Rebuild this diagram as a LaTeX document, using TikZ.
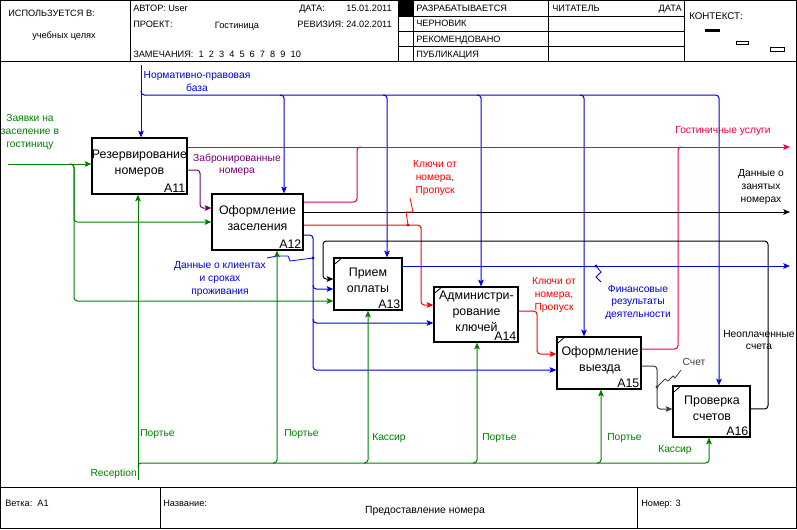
\documentclass[tikz,border=0pt]{standalone}
\usepackage{fontspec}
\setmainfont{Liberation Sans}
\usepackage{tikz}
\usetikzlibrary{calc,arrows.meta}

\definecolor{idgreen}{RGB}{0,128,0}
\definecolor{idblue}{RGB}{0,0,225}
\definecolor{idred}{RGB}{255,0,0}
\definecolor{idrose}{RGB}{240,0,60}
\definecolor{idplum}{RGB}{115,0,115}
\definecolor{idgray}{RGB}{60,60,60}

\begin{document}
\begin{tikzpicture}[x=0.75pt,y=-0.75pt,
	frm/.style={line width=0.75pt},
	hdr/.style={font=\fontsize{6.9}{8}\selectfont,inner sep=0pt,anchor=base west},
	func/.style={draw,line width=0.9pt,fill=white,inner sep=0pt},
	ftext/.style={font=\fontsize{9.3}{12}\selectfont,align=center,inner sep=0pt},
	fnum/.style={font=\fontsize{9.3}{11}\selectfont,inner sep=1.5pt,anchor=south east},
	arr/.style={-{Stealth[length=5pt,width=4.2pt,inset=1pt]},line width=0.75pt,rounded corners=2.5pt},
	jn/.style={line width=0.75pt,rounded corners=2.5pt},
	lbl/.style={font=\fontsize{7.7}{9.4}\selectfont,align=center,inner sep=0pt},
	squig/.style={line width=0.6pt}]

\useasboundingbox (0,0) rectangle (797,529);

% frame, header and footer
\draw[frm] (0.5,0.5) rectangle (796.5,528.5);
\draw[frm] (0.5,61) -- (796.5,61) (0.5,487) -- (796.5,487);
\draw[frm] (130,0.5) -- (130,61) (398,0.5) -- (398,61) (413,0.5) -- (413,61)
	(548,0.5) -- (548,61) (684,0.5) -- (684,61);
\draw[frm] (398,16) -- (684,16) (398,31) -- (684,31) (398,46) -- (684,46);
\fill (398,0.5) rectangle (413,16);
\draw[frm] (160,487) -- (160,528.5) (637,487) -- (637,528.5);
\fill (705,29) rectangle (720,32);
\draw[line width=0.6pt] (736,41) rectangle (748,44) (770,47) rectangle (784,51);

\node[hdr] (used) at (8,16) {ИСПОЛЬЗУЕТСЯ В:};
\node[hdr,anchor=base] (usedv) at (64,38) {учебных целях};
\node[hdr] (auth) at (133,11) {АВТОР:\ User};
\node[hdr] (date) at (299,11) {ДАТА:};
\node[hdr,anchor=base east] (datev) at (392,11) {15.01.2011};
\node[hdr] (proj) at (133,27) {ПРОЕКТ:};
\node[hdr,anchor=base] (projv) at (237,28) {Гостиница};
\node[hdr,anchor=base east] (rev) at (392,27) {РЕВИЗИЯ: 24.02.2011};
\node[hdr] (notes) at (133,57) {ЗАМЕЧАНИЯ:\ \ 1\ \ 2\ \ 3\ \ 4\ \ 5\ \ 6\ \ 7\ \ 8\ \ 9\ \ 10};
\node[hdr] (st1) at (416,11) {РАЗРАБАТЫВАЕТСЯ};
\node[hdr] (st2) at (416,26) {ЧЕРНОВИК};
\node[hdr] (st3) at (416,42) {РЕКОМЕНДОВАНО};
\node[hdr] (st4) at (416,57) {ПУБЛИКАЦИЯ};
\node[hdr] (rdr) at (552,11) {ЧИТАТЕЛЬ};
\node[hdr,anchor=base east] (rdrd) at (682,11) {ДАТА};
\node[hdr,font=\fontsize{7.3}{9}\selectfont] (ctx) at (689,19) {КОНТЕКСТ:};
\node[hdr] (node) at (5,506) {Ветка:\ \ A1};
\node[hdr] (title) at (163,506) {Название:};
\node[hdr,anchor=base,font=\fontsize{7.8}{9}\selectfont] (titlev) at (425,513) {Предоставление номера};
\node[hdr] (num) at (641,506) {Номер: 3};

% function boxes
\node[func,minimum width=71.25pt,minimum height=42pt] (A11) at (139.5,166) {};
\node[func,minimum width=68.25pt,minimum height=42pt] (A12) at (257.5,222) {};
\node[func,minimum width=51pt,minimum height=39pt] (A13) at (368,284) {};
\node[func,minimum width=63pt,minimum height=41.25pt] (A14) at (476,314.5) {};
\node[func,minimum width=63pt,minimum height=39pt] (A15) at (599,363) {};
\node[func,minimum width=57.75pt,minimum height=38.25pt] (A16) at (711.5,411.5) {};
\foreach \f in {A13,A14,A15,A16}
	\draw[line width=0.6pt] ([shift={(1,7)}]\f.north west) -- ([shift={(8,1)}]\f.north west);

\node[ftext] (A11t) at (139.5,164) {Резервирование\\номеров};
\node[ftext] (A12t) at (257.5,218.5) {Оформление\\заселения};
\node[ftext] (A13t) at (368,280.5) {Прием\\оплаты};
\node[ftext] (A14t) at (476.5,311.5) {Администри-\\рование\\ключей};
\node[ftext] (A15t) at (600,360) {Оформление\\выезда};
\node[ftext] (A16t) at (712,408.5) {Проверка\\счетов};
\foreach \f in {A11,A12,A13,A14,A15,A16}
	\node[fnum] (\f n) at (\f.south east) {\f};

% inputs
\coordinate (zin) at (8,164);
\coordinate (zj) at (74,164);
\coordinate (zk) at (74,301);
\draw[arr,idgreen] (zin) -- (zin -| A11.west);
\draw[arr,idgreen] ([xshift=-3pt]zj) -| (zj |- A12.west) -- (A12.west);
\draw[arr,idgreen] ([xshift=-3pt]zj) -| (zk) -- (zk -| A13.west);

% controls
\coordinate (nin) at (141,65);
\coordinate (nj) at (141,95);
\coordinate (n6) at (719,95);
\draw[arr,idblue] (nin) -- (nin |- A11.north);
\draw[arr,idblue] ([yshift=3pt]nj) |- (n6) -- (n6 |- A16.north);
\foreach \x/\f in {284/A12,387/A13,481/A14,584/A15} {
	\coordinate (n\f) at (\x,95);
	\draw[arr,idblue] ([xshift=-3pt]n\f) -| (n\f |- \f.north);
}

% outputs
\coordinate (gout) at (790,147);
\coordinate (g2) at (357,147);
\coordinate (g5) at (678,147);
\draw[arr,idrose] ([yshift=14.25pt]A11.east) -- (gout);
\draw[jn,idrose] ([yshift=15pt]A12.east) -| (g2) -- ++(4,0);
\draw[jn,idrose] ([yshift=10.5pt]A15.east) -| (g5) -- ++(4,0);

\coordinate (zb) at (200,208);
\draw[arr,idplum] ([yshift=-3pt]A11.east) -| (zb) -- (zb -| A12.west);

\coordinate (dout) at (790,212);
\draw[arr] ([yshift=7.5pt]A12.east) -- (dout);

\coordinate (k1) at (421,305);
\coordinate (k1d) at (408,225);
\draw[arr,idred] ([yshift=-2.25pt]A12.east) -| (k1) -- (k1 -| A14.west);
\fill[idred] (k1d) circle (1.2pt);
\draw[squig,idred] (k1d) -- ++(-2,-13) -- ++(7,0) -- ++(-3,-14);

\coordinate (c1) at (313,370);
\coordinate (c2) at (313,289);
\coordinate (c3) at (313,323);
\coordinate (cd) at (313,258);
\draw[arr,idblue] ([yshift=-9.75pt]A12.east) -| (c1) -- (c1 -| A15.west);
\draw[arr,idblue] ([yshift=3pt]c2) |- (c2 -| A13.west);
\draw[arr,idblue] ([yshift=3pt]c3) |- (c3 -| A14.west);
\fill[idblue] (cd) circle (1.2pt);
\draw[squig,idblue] (cd) -- ++(-23,3) -- ++(-2,-5) -- ++(-11,0) -- ++(-10,2);

\coordinate (fout) at (790,266);
\coordinate (fd) at (596,266);
\draw[arr,idblue] ([yshift=13.5pt]A13.east) -- (fout);
\fill[idblue] (fd) circle (1.2pt);
\draw[squig,idblue] (fd) -- ++(5,6) -- ++(-5,5) -- ++(5,5);

\coordinate (u1) at (768,241);
\coordinate (u2) at (323,279);
\draw[arr] ([yshift=1.9pt]A16.east) -| (u1) -| (u2) -- (u2 -| A13.west);

\coordinate (k2) at (537,354);
\draw[arr,idred] ([yshift=2.6pt]A14.east) -| (k2) -- (k2 -| A15.west);

\coordinate (s1) at (657,409);
\coordinate (sd) at (657,387);
\draw[arr,idgray] ([yshift=-2.25pt]A15.east) -| (s1) -- (s1 -| A16.west);
\fill[idgray] (sd) circle (1.2pt);
\draw[squig,idgray] (sd) -- ++(8,-8) -- ++(3,2) -- ++(5,-5) -- ++(2,2) -- ++(6,-8);

% mechanisms
\coordinate (rin) at (138,480);
\coordinate (rb) at (138,463);
\coordinate (r6) at (709,463);
\draw[arr,idgreen] (rin) -- (rin |- A11.south);
\draw[arr,idgreen] ([yshift=-3pt]rb) |- (r6) -- (r6 |- A16.south);
\foreach \x/\f in {277/A12,368/A13,477/A14,601/A15} {
	\coordinate (r\f) at (\x,463);
	\draw[arr,idgreen] ([xshift=-3pt]r\f) -| (r\f |- \f.south);
}

% arrow labels
\node[lbl,idgreen] (zl) at (30,132) {Заявки на\\заселение в\\гостиницу};
\node[lbl,idblue] (nl) at (197,81.5) {Нормативно-правовая\\база};
\node[lbl,idrose] (gl) at (723,131) {Гостиничные услуги};
\node[lbl,idplum] (zbl) at (237,165) {Забронированные\\номера};
\node[lbl] (dl) at (761,187) {Данные о\\занятых\\номерах};
\node[lbl,idred] (k1l) at (435,178) {Ключи от\\номера,\\Пропуск};
\node[lbl,idblue] (cl) at (220,279) {Данные о клиентах\\и сроках\\проживания};
\node[lbl,idblue] (fl) at (638,302) {Финансовые\\результаты\\деятельности};
\node[lbl] (ul) at (759,340) {Неоплаченные\\счета};
\node[lbl,idred] (k2l) at (554,295) {Ключи от\\номера,\\Пропуск};
\node[lbl,idgray] (sl) at (694,362) {Счет};
\node[lbl,idgreen,anchor=east] (rl) at (137,474) {Reception};
\node[lbl,idgreen,anchor=west] (p1) at (140,434) {Портье};
\node[lbl,idgreen,anchor=west] (p2) at (284,434) {Портье};
\node[lbl,idgreen,anchor=west] (ks1) at (372,438) {Кассир};
\node[lbl,idgreen,anchor=west] (p3) at (482,438) {Портье};
\node[lbl,idgreen,anchor=west] (p4) at (607,438) {Портье};
\node[lbl,idgreen,anchor=west] (ks2) at (658,450) {Кассир};
\end{tikzpicture}
\end{document}
